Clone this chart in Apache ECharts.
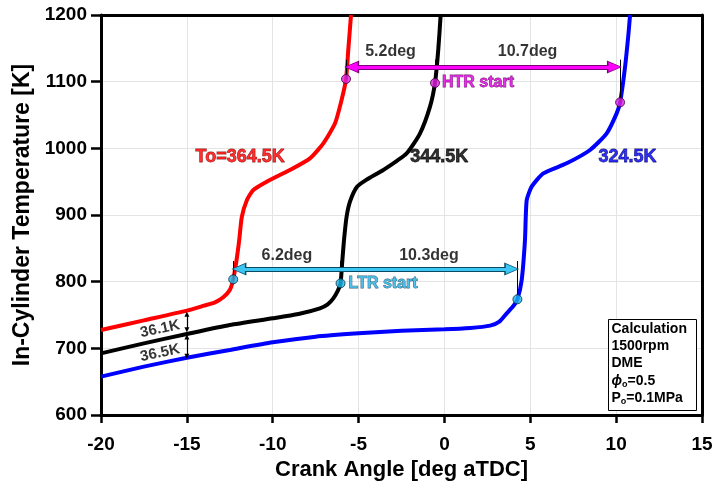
<!DOCTYPE html>
<html>
<head>
<meta charset="utf-8">
<script src="https://cdn.jsdelivr.net/npm/echarts@6/dist/echarts.min.js"></script>
<style>
  html, body { margin: 0; padding: 0; background: #fff; }
  #chart { width: 712px; height: 481px; }
</style>
</head>
<body>
<div id="chart"></div>
<script>
// Axis ranges [min, max, interval]
const angleRange = [-20, 15, 5];
const tempRange = [600, 1200, 100];

// In-cylinder temperature vs crank angle, [deg aTDC, K], one per intake temperature
const curve364 = [
  [-20, 727.5], [-17.5, 742], [-15, 756.5], [-14, 764], [-13.36, 769], [-12.88, 776.5],
  [-12.5, 787.5], [-12.3, 803.5], [-12.12, 830], [-11.95, 862.5], [-11.8, 897],
  [-11.5, 922.5], [-11.13, 937.5], [-10.35, 950], [-9.0, 967.5], [-7.83, 985],
  [-7.05, 1007.5], [-6.37, 1037.5], [-5.99, 1072.5], [-5.73, 1104], [-5.6, 1147.5], [-5.44, 1200]
];
const curve344 = [
  [-20, 692.5], [-17.5, 707.5], [-15, 721.5], [-12.5, 735], [-10, 745], [-8.5, 751.5],
  [-7.25, 760], [-6.8, 766], [-6.47, 775], [-6.2, 787], [-6.05, 797.5], [-5.95, 830],
  [-5.85, 862], [-5.7, 897], [-5.5, 920], [-5.1, 942], [-4.53, 953], [-3.56, 967.5],
  [-2.2, 992.5], [-1.42, 1022.5], [-0.84, 1062.5], [-0.55, 1098], [-0.36, 1147.5], [-0.22, 1200]
];
const curve324 = [
  [-20, 657.5], [-17.5, 672.5], [-15, 686], [-12.5, 697.5], [-10, 709], [-7.5, 717.5],
  [-5, 722.5], [-2.5, 726.5], [0, 728.5], [1.5, 730.5], [2.66, 734], [3.2, 740],
  [3.63, 752.5], [4.0, 763], [4.25, 773.5], [4.5, 802.5], [4.69, 862], [4.79, 922],
  [5.08, 942.5], [5.76, 962.5], [7.12, 977.5], [8.48, 997.5], [9.45, 1022.5],
  [10.03, 1052.5], [10.23, 1069], [10.52, 1122.5], [10.72, 1172.5], [10.81, 1200]
];

// Start of high / low temperature reaction on each curve (364.5K, 344.5K, 324.5K)
const htrStart = [[-5.73, 1104], [-0.55, 1098], [10.23, 1069]];
const ltrStart = [[-12.3, 803.5], [-6.05, 797.5], [4.25, 773.5]];
const htrArrowT = 1122;
const ltrArrowT = 819;
const htrGapLabels = ['5.2deg', '10.7deg'];
const ltrGapLabels = ['6.2deg', '10.3deg'];

// Curve labels and their anchor points
const curveLabels = ['To=364.5K', '344.5K', '324.5K'];
const curveLabelPos = [[-11.9, 987], [-0.3, 987], [10.66, 987]];

// Temperature offsets between curves at -15 deg
const offsetAngle = -15;
const offsetLabels = ['36.1K', '36.5K'];
const offsetLabelPos = [[-16.56, 729], [-16.56, 693]];
const offsetArrows = [[751, 728], [717, 688]];

// Calculation conditions box
const conditions = ['Calculation', '1500rpm', 'DME', '{phi|ϕ}{sub|o}{n|=0.5}', '{n|P}{sub|o}{n|=0.1MPa}'];

const FONT = '"Liberation Sans", Arial, sans-serif';
const MAGENTA = '#ff00ff';
const CYAN = '#3cc6f2';
// arrowheads sit centred on their end coordinate; pull the ends in so the tips land on the onset
const HEAD_INSET = 0.33;

const chart = echarts.init(document.getElementById('chart'), null, { renderer: 'canvas' });

function curveSeries(name, data, color) {
  return {
    name, type: 'line', data, showSymbol: false, smooth: 0.2,
    lineStyle: { color, width: 4 }, z: 2, silent: true
  };
}

function seg(a, b, symA, symB, size) {
  return [
    { coord: a, symbol: symA || 'none', symbolSize: size || 10 },
    { coord: b, symbol: symB || 'none', symbolSize: size || 10 }
  ];
}

function lineLayer(name, data, color, width, z) {
  return {
    name, type: 'line', data: [], z, silent: true,
    markLine: {
      silent: true, animation: false, precision: 6,
      label: { show: false },
      lineStyle: { color, width, type: 'solid' },
      emphasis: { disabled: true },
      data
    }
  };
}

// Arrows across reaction onsets
const htrLeft = [htrStart[0][0] + HEAD_INSET, htrArrowT];
const htrRight = [htrStart[2][0] - HEAD_INSET, htrArrowT];
const ltrLeft = [ltrStart[0][0] + HEAD_INSET, ltrArrowT];
const ltrRight = [ltrStart[2][0] - HEAD_INSET, ltrArrowT];

// Thin vertical ticks from each onset marker up through the arrow
const tickLines = []
  .concat(htrStart.map(p => seg(p, [p[0], htrArrowT + 11])))
  .concat(ltrStart.map(p => seg(p, [p[0], ltrArrowT + 12])));

const offsetArrowLines = offsetArrows.map(r =>
  seg([offsetAngle, r[0]], [offsetAngle, r[1]], 'triangle', 'triangle', [5, 5]));

// Text annotations
const notes = [];
htrGapLabels.forEach((t, i) => notes.push({
  value: [(htrStart[i][0] + htrStart[i + 1][0]) / 2, htrArrowT + 23],
  label: { formatter: t, color: '#000', fontSize: 16 }
}));
ltrGapLabels.forEach((t, i) => notes.push({
  value: [(ltrStart[i][0] + ltrStart[i + 1][0]) / 2, ltrArrowT + 20],
  label: { formatter: t, color: '#000', fontSize: 16 }
}));
const curveColors = [
  { color: '#ff0000', border: '#700000' },
  { color: '#000000', border: '#000000' },
  { color: '#0000ee', border: '#000050' }
];
curveLabels.forEach((t, i) => notes.push({
  value: curveLabelPos[i],
  label: { formatter: t, color: curveColors[i].color, fontSize: 18,
           textBorderColor: curveColors[i].border, textBorderWidth: 0.8 }
}));
offsetLabels.forEach((t, i) => notes.push({
  value: offsetLabelPos[i],
  label: { formatter: t, color: '#000', fontSize: 15, rotate: 12 }
}));
notes.push({
  value: htrStart[1],
  label: { formatter: 'HTR start', position: 'right', distance: 7, color: '#e000e0',
           fontSize: 16, textBorderColor: '#500050', textBorderWidth: 0.8 }
});
notes.push({
  value: ltrStart[1],
  label: { formatter: 'LTR start', position: 'right', distance: 8, color: '#2ab4e6',
           fontSize: 16, textBorderColor: '#0a3850', textBorderWidth: 0.8 }
});

const boxRich = {
  n: { fontFamily: FONT, fontWeight: 'bold', fontSize: 14, fill: '#000' },
  phi: { fontFamily: FONT, fontWeight: 'bold', fontStyle: 'italic', fontSize: 14, fill: '#000' },
  sub: { fontFamily: FONT, fontWeight: 'bold', fontSize: 9, fill: '#000', padding: [7, 0, 0, 0] }
};

const option = {
  animation: false,
  backgroundColor: '#fff',
  grid: { left: 101, right: 10, top: 15, bottom: 66, containLabel: false, outerBoundsMode: 'none' },
  xAxis: [{
    type: 'value', min: angleRange[0], max: angleRange[1], interval: angleRange[2],
    position: 'bottom',
    axisLine: { show: true, onZero: false, lineStyle: { color: '#000', width: 3 } },
    axisTick: { show: true, inside: false, length: 8, lineStyle: { color: '#000', width: 2.5 } },
    axisLabel: { margin: 20, color: '#000', fontSize: 19, fontWeight: 'bold', fontFamily: FONT,
                 formatter: v => String(v) },
    splitLine: { show: true, lineStyle: { color: '#e4e4e4', width: 1 } },
    name: 'Crank Angle [deg aTDC]', nameLocation: 'middle', nameGap: 41,
    nameTextStyle: { color: '#000', fontSize: 22, fontWeight: 'bold', fontFamily: FONT }
  }, {
    type: 'value', min: angleRange[0], max: angleRange[1], position: 'top',
    axisLine: { show: true, onZero: false, lineStyle: { color: '#000', width: 3 } },
    axisTick: { show: false }, axisLabel: { show: false }, splitLine: { show: false }
  }],
  yAxis: [{
    type: 'value', min: tempRange[0], max: tempRange[1], interval: tempRange[2],
    position: 'left',
    axisLine: { show: true, onZero: false, lineStyle: { color: '#000', width: 3 } },
    axisTick: { show: true, inside: false, length: 10, lineStyle: { color: '#000', width: 2.5 } },
    axisLabel: { margin: 14, color: '#000', fontSize: 19, fontWeight: 'bold', fontFamily: FONT,
                 formatter: v => String(v) },
    splitLine: { show: true, lineStyle: { color: '#e4e4e4', width: 1 } },
    name: 'In-Cylinder Temperature [K]', nameLocation: 'middle', nameGap: 57,
    nameTextStyle: { color: '#000', fontSize: 23, fontWeight: 'bold', fontFamily: FONT }
  }, {
    type: 'value', min: tempRange[0], max: tempRange[1], position: 'right',
    axisLine: { show: true, onZero: false, lineStyle: { color: '#000', width: 3 } },
    axisTick: { show: false }, axisLabel: { show: false }, splitLine: { show: false }
  }],
  series: [
    curveSeries('364.5K', curve364, '#ff0000'),
    curveSeries('344.5K', curve344, '#000000'),
    curveSeries('324.5K', curve324, '#0000ff'),
    lineLayer('onsetTicks', tickLines, '#000', 1, 3),
    lineLayer('htrArrowEdge', [seg(htrLeft, htrRight, 'triangle', 'triangle', [13, 15])], '#7a007a', 5, 4),
    lineLayer('htrArrow', [seg(htrLeft, htrRight, 'triangle', 'triangle', [10, 12])], MAGENTA, 3, 5),
    lineLayer('ltrArrowEdge', [seg(ltrLeft, ltrRight, 'triangle', 'triangle', [13, 15])], '#0b4a66', 5, 4),
    lineLayer('ltrArrow', [seg(ltrLeft, ltrRight, 'triangle', 'triangle', [10, 12])], CYAN, 3, 5),
    lineLayer('offsetArrows', offsetArrowLines, '#000', 1.2, 5),
    {
      name: 'HTR start', type: 'scatter', data: htrStart, symbol: 'circle', symbolSize: 9,
      itemStyle: { color: '#e020e0', borderColor: '#400040', borderWidth: 1 }, z: 6, silent: true
    },
    {
      name: 'LTR start', type: 'scatter', data: ltrStart, symbol: 'circle', symbolSize: 9,
      itemStyle: { color: '#18b8ee', borderColor: '#063040', borderWidth: 1 }, z: 6, silent: true
    },
    {
      name: 'notes', type: 'scatter', data: notes, symbolSize: 0, z: 7, silent: true,
      label: { show: true, position: 'inside', fontFamily: FONT, fontWeight: 'bold' }
    }
  ],
  graphic: [{
    type: 'group', left: 608, top: 319, silent: true, z: 100,
    children: [{
      type: 'rect', shape: { x: 0, y: 0, width: 88, height: 91 }, z: 100,
      style: { fill: '#fff', stroke: '#000', lineWidth: 1 }
    }].concat(conditions.map((line, i) => ({
      type: 'text', x: 3, y: 3 + i * 17, z: 101,
      style: {
        text: line.indexOf('{') >= 0 ? line : '{n|' + line + '}',
        fill: '#000', fontFamily: FONT, fontWeight: 'bold', fontSize: 14,
        rich: boxRich
      }
    })))
  }]
};

chart.setOption(option);
</script>
</body>
</html>
